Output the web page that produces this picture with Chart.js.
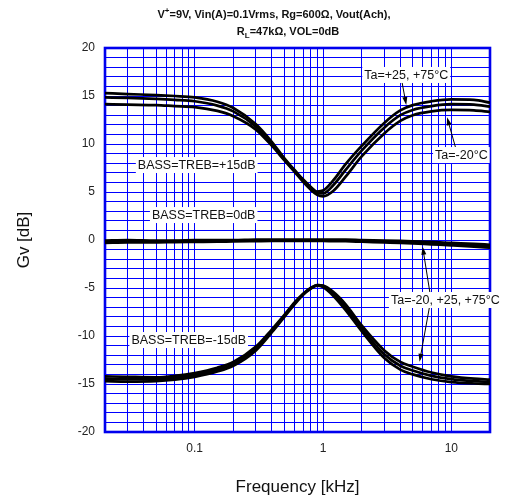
<!DOCTYPE html>
<html><head><meta charset="utf-8">
<script src="https://cdn.jsdelivr.net/npm/chart.js@4/dist/chart.umd.min.js"></script>
<style>html,body{margin:0;padding:0;background:#fff}#wrap{width:508px;height:503px}</style>
</head><body><div id="wrap"><canvas id="c" width="508" height="503"></canvas></div>
<script>
// ---- data (frequency in kHz, gain in dB) ----
const freqKHz = [0.02,0.03,0.05,0.07,0.1,0.15,0.2,0.3,0.4,0.5,0.6,0.7,0.8,0.9,1,1.2,1.5,2,3,4,5,7,10,15,20];

const plus15_Ta75  = [15.3,15.2,15.1,15.0,14.85,14.4,13.75,12.05,10.2,8.5,7.3,6.3,5.55,5.05,5.15,6.2,7.9,9.8,12.2,13.5,14.05,14.45,14.65,14.6,14.3];
const plus15_Ta25  = [14.85,14.8,14.7,14.6,14.45,14.0,13.4,11.8,10.0,8.4,7.2,6.2,5.4,4.9,4.85,5.7,7.3,9.3,11.7,13.0,13.55,13.95,14.15,14.1,13.9];
const plus15_TaM20 = [14.15,14.1,14.05,13.95,13.85,13.45,12.9,11.5,9.8,8.3,7.1,6.05,5.25,4.7,4.55,5.1,6.6,8.7,11.1,12.4,13.0,13.4,13.55,13.5,13.35];

const flat_Ta75  = [-0.05,0.0,-0.05,-0.05,0.0,0.0,0.0,0.05,0.05,0.05,0.05,0.05,0.05,0.05,0.05,0.05,0.05,0.0,-0.05,-0.1,-0.15,-0.2,-0.3,-0.4,-0.5];
const flat_Ta25  = [-0.2,-0.15,-0.15,-0.12,-0.1,-0.08,-0.06,-0.05,-0.05,-0.05,-0.05,-0.05,-0.05,-0.05,-0.05,-0.05,-0.05,-0.1,-0.15,-0.2,-0.25,-0.32,-0.42,-0.52,-0.62];
const flat_TaM20 = [-0.3,-0.25,-0.25,-0.22,-0.2,-0.18,-0.15,-0.12,-0.1,-0.1,-0.1,-0.1,-0.1,-0.1,-0.1,-0.12,-0.13,-0.18,-0.25,-0.3,-0.35,-0.45,-0.55,-0.68,-0.8];

const minus15_Ta75  = [-14.2,-14.25,-14.3,-14.15,-13.85,-13.3,-12.7,-11.1,-9.3,-7.8,-6.5,-5.6,-5.0,-4.7,-4.75,-5.4,-6.7,-8.9,-11.5,-12.7,-13.2,-13.8,-14.2,-14.45,-14.55];
const minus15_Ta25  = [-14.45,-14.5,-14.5,-14.35,-14.05,-13.5,-12.9,-11.3,-9.45,-7.9,-6.6,-5.65,-5.05,-4.7,-4.8,-5.6,-7.0,-9.2,-11.9,-13.1,-13.6,-14.15,-14.5,-14.7,-14.8];
const minus15_TaM20 = [-14.7,-14.75,-14.7,-14.55,-14.25,-13.7,-13.1,-11.5,-9.6,-8.0,-6.7,-5.7,-5.1,-4.75,-4.9,-5.8,-7.3,-9.5,-12.3,-13.5,-14.0,-14.5,-14.8,-14.95,-15.0];

const xGridTicks = [0.02,0.03,0.04,0.05,0.06,0.07,0.08,0.09,0.1,0.2,0.3,0.4,0.5,0.6,0.7,0.8,0.9,1,2,3,4,5,6,7,8,9,10,20];
const xTickLabels = [0.1,1,10];
const yMin = -20, yMax = 20, yGridStep = 1, yLabelStep = 5;

const xTitle = 'Frequency [kHz]';
const yTitle = 'Gv [dB]';
const titleLine1 = [['V',''],['+','sup'],['=9V, Vin(A)=0.1Vrms, Rg=600\u03A9, Vout(Ach),','']];
const titleLine2 = [['R',''],['L','sub'],['=47k\u03A9, VOL=0dB','']];

// annotation texts with anchor (kHz, dB)
const noteTexts = ['BASS=TREB=+15dB','BASS=TREB=0dB','BASS=TREB=-15dB','Ta=+25, +75\u00B0C','Ta=-20\u00B0C','Ta=-20, +25, +75\u00B0C'];
const noteFreq  = [0.1037,0.1175,0.0898,4.45,11.97,8.98];
const noteGain  = [7.81,2.6,-10.42,17.19,8.85,-6.25];
// arrows: from (kHz,dB) to (kHz,dB)
const arrowFrom = [[4.12,16.49],[10.75,9.69],[6.85,-5.73],[6.73,-7.08]];
const arrowTo   = [[4.45,14.06],[9.25,12.78],[5.97,-0.7],[5.65,-12.68]];

const FONT = "'Liberation Sans', Arial, sans-serif";
const series = [plus15_Ta75,plus15_Ta25,plus15_TaM20,flat_Ta75,flat_Ta25,flat_TaM20,minus15_Ta75,minus15_Ta25,minus15_TaM20];
const seriesNames = ['+15dB Ta=+75','+15dB Ta=+25','+15dB Ta=-20','0dB Ta=+75','0dB Ta=+25','0dB Ta=-20','-15dB Ta=+75','-15dB Ta=+25','-15dB Ta=-20'];

const datasets = series.map((s,i)=>({
  label: seriesNames[i],
  data: freqKHz.map((f,j)=>({x:f,y:s[j]})),
  borderColor:'#000', borderWidth:2.7, pointRadius:0, fill:false,
  cubicInterpolationMode:'monotone'
}));

const overlay = {
  id:'overlay',
  beforeDatasetsDraw(chart){
    const {ctx, chartArea:a} = chart;
    ctx.save(); ctx.strokeStyle='#0000ee'; ctx.lineWidth=2.6;
    ctx.strokeRect(a.left, a.top, a.right-a.left, a.bottom-a.top);
    ctx.restore();
  },
  afterDatasetsDraw(chart){
    const {ctx} = chart; const xs = chart.scales.x, ys = chart.scales.y;
    ctx.save();
    ctx.strokeStyle='#000'; ctx.fillStyle='#000'; ctx.lineWidth=1;
    arrowFrom.forEach((p,i)=>{
      const x1=xs.getPixelForValue(p[0]), y1=ys.getPixelForValue(p[1]);
      const x2=xs.getPixelForValue(arrowTo[i][0]), y2=ys.getPixelForValue(arrowTo[i][1]);
      const ang=Math.atan2(y2-y1,x2-x1), L=8, W=2.5;
      ctx.beginPath(); ctx.moveTo(x1,y1); ctx.lineTo(x2-Math.cos(ang)*L*0.7,y2-Math.sin(ang)*L*0.7); ctx.stroke();
      ctx.beginPath(); ctx.moveTo(x2,y2);
      ctx.lineTo(x2-Math.cos(ang)*L-Math.sin(ang)*W, y2-Math.sin(ang)*L+Math.cos(ang)*W);
      ctx.lineTo(x2-Math.cos(ang)*L+Math.sin(ang)*W, y2-Math.sin(ang)*L-Math.cos(ang)*W);
      ctx.closePath(); ctx.fill();
    });
    ctx.font = '12.5px ' + FONT; ctx.textBaseline='middle'; ctx.textAlign='center';
    noteTexts.forEach((t,i)=>{
      const cx=xs.getPixelForValue(noteFreq[i]), cy=ys.getPixelForValue(noteGain[i]);
      const w=ctx.measureText(t).width;
      ctx.fillStyle='#fff'; ctx.fillRect(cx-w/2-2, cy-8, w+4, 16);
      ctx.fillStyle='#111'; ctx.fillText(t, cx, cy+0.5);
    });
    ctx.restore();
  },
  afterDraw(chart){
    const {ctx} = chart;
    ctx.save(); ctx.fillStyle='#111'; ctx.textBaseline='middle'; ctx.textAlign='left';
    const big='bold 11px '+FONT, small='bold 8px '+FONT;
    const drawLine=(parts,cx,cy)=>{
      let w=0; parts.forEach(p=>{ctx.font=p[1]?small:big; w+=ctx.measureText(p[0]).width;});
      let x=cx-w/2;
      parts.forEach(p=>{ctx.font=p[1]?small:big;
        const dy=p[1]==='sup'?-4:(p[1]==='sub'?4:0);
        ctx.fillText(p[0],x,cy+dy); x+=ctx.measureText(p[0]).width;});
    };
    drawLine(titleLine1,274,15);
    drawLine(titleLine2,288,32);
    ctx.restore();
  }
};

new Chart(document.getElementById('c'), {
  type:'line',
  data:{datasets},
  options:{
    responsive:false, animation:false,
    layout:{padding:{left:0,right:18,top:48,bottom:0}},
    plugins:{legend:{display:false}, title:{display:false}, tooltip:{enabled:false}},
    scales:{
      x:{type:'logarithmic', min:0.02, max:20,
        afterBuildTicks:s=>{ s.ticks = xGridTicks.map(v=>({value:v})); },
        afterFit:s=>{ s.height = 71; },
        grid:{color:'#0000ff', lineWidth:1, drawTicks:false},
        border:{display:false},
        ticks:{autoSkip:false, maxRotation:0, minRotation:0, padding:9, color:'#222',
          font:{family:FONT,size:12},
          callback:v=> xTickLabels.includes(v) ? String(v) : ''},
        title:{display:true, text:xTitle, color:'#111', font:{family:FONT,size:17}, padding:{top:0,bottom:5}}
      },
      y:{type:'linear', min:yMin, max:yMax,
        afterFit:s=>{ s.width = 105; },
        grid:{color:'#0000ff', lineWidth:1, drawTicks:false},
        border:{display:false},
        ticks:{stepSize:yGridStep, autoSkip:false, padding:10, color:'#222',
          font:{family:FONT,size:12},
          callback:v=> (v % yLabelStep === 0) ? String(v) : ''},
        title:{display:true, text:yTitle, color:'#111', font:{family:FONT,size:17}, padding:{top:14,bottom:0}}
      }
    }
  },
  plugins:[overlay]
});
</script></body></html>
